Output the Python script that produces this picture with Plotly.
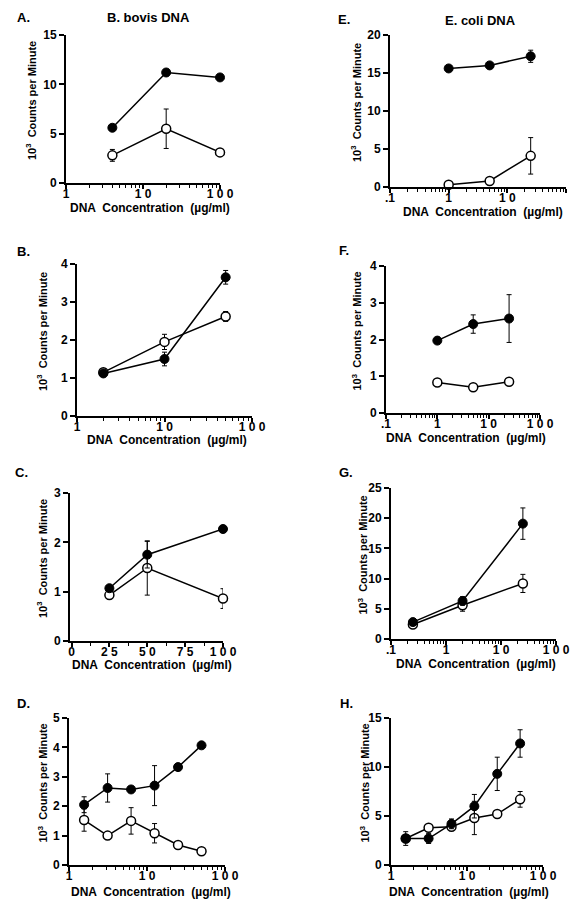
import plotly.graph_objects as go

# ---------------- data ----------------
A_x = [4, 20, 100]
A_filled = [5.6, 11.2, 10.7]
A_filled_err = [0, 0, 0]
A_open = [2.8, 5.5, 3.1]
A_open_err = [0.6, 2.0, 0]

B_x = [2, 10, 50]
B_filled = [1.12, 1.5, 3.65]
B_filled_err = [0.06, 0.18, 0.18]
B_open = [1.15, 1.95, 2.62]
B_open_err = [0.08, 0.2, 0.13]

C_x = [25, 50, 100]
C_filled = [1.07, 1.75, 2.27]
C_filled_err = [0, 0.27, 0]
C_open = [0.93, 1.48, 0.86]
C_open_err = [0, 0.55, 0.2]

D_x = [1.5625, 3.125, 6.25, 12.5, 25, 50]
D_filled = [2.05, 2.62, 2.57, 2.7, 3.33, 4.07]
D_filled_err = [0.27, 0.48, 0, 0.68, 0.1, 0]
D_open = [1.53, 1.0, 1.5, 1.08, 0.68, 0.47]
D_open_err = [0.38, 0, 0.45, 0.33, 0, 0]

E_x = [1, 5, 25]
E_filled = [15.6, 16.0, 17.2]
E_filled_err = [0, 0, 0.8]
E_open = [0.3, 0.8, 4.1]
E_open_err = [0, 0, 2.4]

F_x = [1, 5, 25]
F_filled = [1.97, 2.42, 2.57]
F_filled_err = [0, 0.25, 0.65]
F_open = [0.83, 0.7, 0.85]
F_open_err = [0, 0, 0]

G_x = [0.25, 2, 25]
G_filled = [2.8, 6.3, 19.1]
G_filled_err = [0, 0.7, 2.6]
G_open = [2.4, 5.6, 9.2]
G_open_err = [0, 1.0, 1.5]

H_x = [1.5625, 3.125, 6.25, 12.5, 25, 50]
H_filled = [2.7, 2.7, 4.2, 6.0, 9.3, 12.4]
H_filled_err = [0, 0.5, 0.5, 1.2, 1.7, 1.4]
H_open = [2.7, 3.8, 3.9, 4.8, 5.2, 6.7]
H_open_err = [0.7, 0, 0, 1.7, 0, 0.8]

y_ticks_A = [0, 5, 10, 15]
y_ticks_B = [0, 1, 2, 3, 4]
y_ticks_C = [0, 1, 2, 3]
y_ticks_D = [0, 1, 2, 3, 4, 5]
y_ticks_E = [0, 5, 10, 15, 20]
y_ticks_F = [0, 1, 2, 3, 4]
y_ticks_G = [0, 5, 10, 15, 20, 25]
y_ticks_H = [0, 5, 10, 15]

log_ticks_1 = [1, 10, 100]
log_labels_1 = ["1", "1 0", "1 0 0"]
log_ticks_01 = [0.1, 1, 10, 100]
log_labels_01 = [".1", "1", "1 0", "1 0 0"]
lin_ticks_C = [0, 25, 50, 75, 100]
lin_labels_C = ["0", "2 5", "5 0", "7 5", "1 0 0"]

panel_letters = ["A.", "B.", "C.", "D.", "E.", "F.", "G.", "H."]
column_titles = ["B. bovis DNA", "E. coli DNA"]
x_title = "DNA  Concentration  (µg/ml)"
y_title = "10<sup>3</sup>  Counts per Minute"

# ---------------- layout geometry (page pixels) ----------------
PAGE_W, PAGE_H = 586, 907
OFF = 8  # default body margin of the html page
W, H = PAGE_W - 2 * OFF, PAGE_H - 2 * OFF
FONT = "Liberation Sans, Arial, sans-serif"

panels = [
    dict(x=A_x, f=A_filled, fe=A_filled_err, o=A_open, oe=A_open_err, xtype="log", xr=[0, 2],
         xt=log_ticks_1, xl=log_labels_1, ymax=15, yt=y_ticks_A, box=(66, 220, 35, 183),
         ytx=31, xty=208, xtx=150, lp=(23, 18)),
    dict(x=B_x, f=B_filled, fe=B_filled_err, o=B_open, oe=B_open_err, xtype="log", xr=[0, 2],
         xt=log_ticks_1, xl=log_labels_1, ymax=4, yt=y_ticks_B, box=(77, 252, 264, 416),
         ytx=42, xty=440, xtx=167, lp=(23, 252)),
    dict(x=C_x, f=C_filled, fe=C_filled_err, o=C_open, oe=C_open_err, xtype="linear", xr=[-1, 100],
         xt=lin_ticks_C, xl=lin_labels_C, ymax=3, yt=y_ticks_C, box=(70, 223, 493, 641),
         ytx=42, xty=665, xtx=152, lp=(21, 473)),
    dict(x=D_x, f=D_filled, fe=D_filled_err, o=D_open, oe=D_open_err, xtype="log", xr=[0, 2],
         xt=log_ticks_1, xl=log_labels_1, ymax=5, yt=y_ticks_D, box=(69, 225, 718, 865),
         ytx=42, xty=892, xtx=151, lp=(23, 703)),
    dict(x=E_x, f=E_filled, fe=E_filled_err, o=E_open, oe=E_open_err, xtype="log", xr=[-1, 2],
         xt=log_ticks_01, xl=log_labels_01, ymax=20, yt=y_ticks_E, box=(390, 566, 35, 187),
         ytx=356, xty=212, xtx=483, lp=(344, 19)),
    dict(x=F_x, f=F_filled, fe=F_filled_err, o=F_open, oe=F_open_err, xtype="log", xr=[-1, 2],
         xt=log_ticks_01, xl=log_labels_01, ymax=4, yt=y_ticks_F, box=(386, 540, 266, 413),
         ytx=357, xty=438, xtx=466, lp=(344, 250)),
    dict(x=G_x, f=G_filled, fe=G_filled_err, o=G_open, oe=G_open_err, xtype="log", xr=[-1, 2],
         xt=log_ticks_01, xl=log_labels_01, ymax=25, yt=y_ticks_G, box=(391, 556, 488, 639),
         ytx=362, xty=664, xtx=476, lp=(346, 473)),
    dict(x=H_x, f=H_filled, fe=H_filled_err, o=H_open, oe=H_open_err, xtype="log", xr=[0, 2],
         xt=log_ticks_1, xl=log_labels_1, ymax=15, yt=y_ticks_H, box=(391, 543, 718, 865),
         ytx=364, xty=892, xtx=469, lp=(346, 703)),
]


def px_x(v):
    return (v - OFF) / W


def px_y(v):
    return 1 - (v - OFF) / H


fig = go.Figure()
layout = dict(
    width=W, height=H, margin=dict(l=0, r=0, t=0, b=0, autoexpand=False),
    paper_bgcolor="white", plot_bgcolor="white", showlegend=False,
    font=dict(family=FONT, color="black"),
)
annotations = []

for i, p in enumerate(panels):
    n = i + 1
    xa = "x" if n == 1 else f"x{n}"
    ya = "y" if n == 1 else f"y{n}"
    l, r, t, b = p["box"]
    if p["xtype"] == "log":
        minor_vals = [m * 10 ** d for d in range(-1, 2) for m in range(2, 10)]
    else:
        minor_vals = [12.5, 37.5, 62.5, 87.5]
    layout["xaxis" if n == 1 else f"xaxis{n}"] = dict(
        domain=[px_x(l), px_x(r)], anchor=ya, type=p["xtype"], range=p["xr"],
        tickvals=p["xt"], ticktext=p["xl"], ticks="outside", ticklen=4, tickwidth=1.5,
        tickcolor="black", showline=True, linecolor="black", linewidth=2,
        showgrid=False, zeroline=False, automargin=False, ticklabelstandoff=-5,
        tickfont=dict(size=12, family=FONT, weight="bold", color="black"),
        minor=dict(tickvals=minor_vals, ticks="outside", ticklen=3, tickwidth=1, tickcolor="black"),
    )
    layout["yaxis" if n == 1 else f"yaxis{n}"] = dict(
        domain=[px_y(b), px_y(t)], anchor=xa, range=[0, p["ymax"]],
        tickvals=p["yt"], ticks="outside", ticklen=5, tickwidth=1.5, tickcolor="black",
        showline=True, linecolor="black", linewidth=2, showgrid=False, zeroline=False,
        automargin=False,
        tickfont=dict(size=12, family=FONT, weight="bold", color="black"),
    )
    fig.add_trace(go.Scatter(
        x=p["x"], y=p["o"], xaxis=xa, yaxis=ya, mode="lines+markers",
        line=dict(color="black", width=1.5),
        marker=dict(symbol="circle", size=9, color="white", line=dict(color="black", width=1.5)),
        error_y=dict(type="data", array=p["oe"], visible=True, color="black", thickness=1, width=2.5),
        cliponaxis=False,
    ))
    fig.add_trace(go.Scatter(
        x=p["x"], y=p["f"], xaxis=xa, yaxis=ya, mode="lines+markers",
        line=dict(color="black", width=1.5),
        marker=dict(symbol="circle", size=9, color="black", line=dict(color="black", width=1)),
        error_y=dict(type="data", array=p["fe"], visible=True, color="black", thickness=1, width=2.5),
        cliponaxis=False,
    ))
    annotations.append(dict(
        x=px_x(p["ytx"]), y=px_y((t + b) / 2 - 8), xref="paper", yref="paper",
        text=y_title, textangle=-90, showarrow=False, xanchor="center", yanchor="middle",
        font=dict(size=11, family=FONT, weight="bold", color="black"),
    ))
    annotations.append(dict(
        x=px_x(p["xtx"]), y=px_y(p["xty"]), xref="paper", yref="paper",
        text=x_title, showarrow=False, xanchor="center", yanchor="middle",
        font=dict(size=12, family=FONT, weight="bold", color="black"),
    ))
    annotations.append(dict(
        x=px_x(p["lp"][0]), y=px_y(p["lp"][1]), xref="paper", yref="paper",
        text=panel_letters[i], showarrow=False, xanchor="center", yanchor="middle",
        font=dict(size=13, family=FONT, weight="bold", color="black"),
    ))

for title, (cx, cy) in zip(column_titles, [(148, 18), (480, 20)]):
    annotations.append(dict(
        x=px_x(cx), y=px_y(cy), xref="paper", yref="paper", text=title,
        showarrow=False, xanchor="center", yanchor="middle",
        font=dict(size=13, family=FONT, weight="bold", color="black"),
    ))

layout["annotations"] = annotations
fig.update_layout(**layout)
fig.write_html("out.html")
